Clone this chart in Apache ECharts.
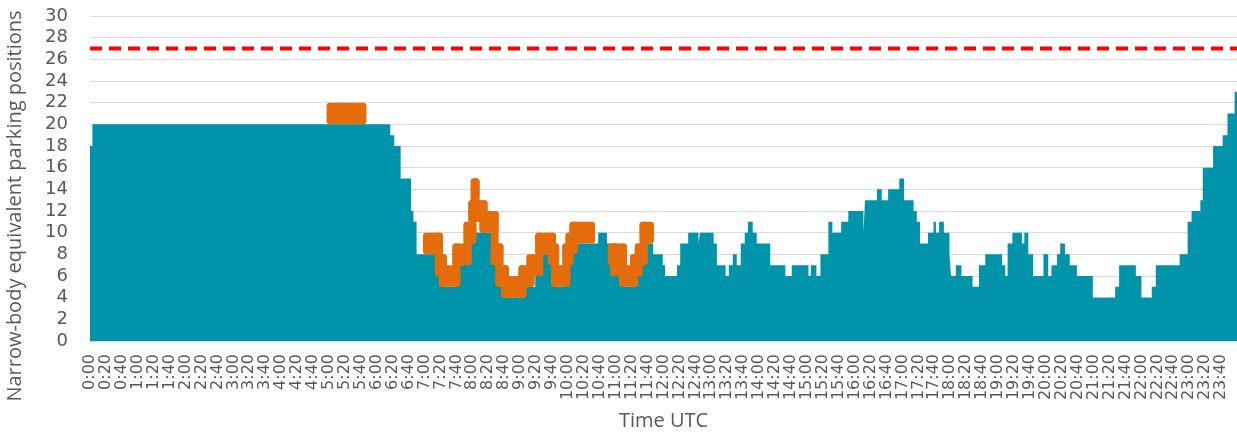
<!DOCTYPE html>
<html>
<head>
<meta charset="utf-8">
<script src="https://cdn.jsdelivr.net/npm/echarts@6/dist/echarts.min.js"></script>
<style>
html, body { margin: 0; padding: 0; background: #fff; }
#chart { width: 1237px; height: 435px; }
</style>
</head>
<body>
<div id="chart"></div>
<script>
// minutes after 0:00 UTC where the occupancy changes, and the value from there on
const tealMinutes = [0, 3, 377, 382, 390, 403, 406, 410, 437, 443, 460, 470, 477, 483, 512, 516, 521, 543, 559, 584, 598, 603,
    638, 649, 655, 672, 684, 690, 707, 719, 722, 737, 741, 751, 764, 766, 783, 787, 798, 802, 807, 812, 817, 822, 826, 832,
    837, 854, 873, 881, 902, 905, 912, 917, 927, 932, 943, 952, 971, 973, 988, 994, 1002, 1016, 1022, 1034, 1038, 1042, 1052,
    1059, 1062, 1066, 1072, 1079, 1081, 1087, 1094, 1108, 1116, 1124, 1145, 1149, 1152, 1158, 1170, 1173, 1178, 1184, 1197,
    1203, 1207, 1214, 1218, 1224, 1230, 1239, 1259, 1287, 1292, 1313, 1320, 1333, 1338, 1368, 1378, 1383, 1394, 1397, 1410,
    1422, 1428, 1437, 1440];
const tealValues = [18, 20, 19, 18, 15, 12, 11, 8, 6, 5, 7, 9, 11, 10, 7, 5, 4, 5, 8, 5, 7, 9,
    10, 9, 7, 5, 7, 9, 8, 7, 6, 7, 9, 10, 9, 10, 9, 7, 6, 7, 8, 7, 9, 10, 11, 10,
    9, 7, 6, 7, 6, 7, 6, 8, 11, 10, 11, 12, 10, 13, 14, 13, 14, 15, 13, 12, 11, 9, 10,
    11, 10, 11, 10, 8, 6, 7, 6, 5, 7, 8, 7, 6, 9, 10, 9, 10, 8, 6, 8,
    6, 7, 8, 9, 8, 7, 6, 4, 5, 7, 6, 4, 5, 7, 8, 11, 12, 13, 16, 18,
    19, 21, 23, 23];

// highlighted periods (null closes a period)
const orangeMinutes = [302, 342, 423, 438, 443, 460, 474, 480, 483, 484, 494, 508, 514, 521, 543, 553, 564, 580, 584, 598, 602, 607, 629,
    655, 658, 660, 669, 683, 689, 695, 703];
const orangeValues = [21, null, 9, 7, 6, 8, 10, 12, 14, 12, 11, 8, 6, 5, 6, 7, 9, 8, 6, 8, 9, 10, null,
    8, 7, 8, 6, 7, 8, 10, null];

const capacityLimit = 27;
const yTicks = { min: 0, max: 30, step: 2 };
const xTicks = { min: 0, max: 1440, step: 20 };

function timeLabel(v) {
    if (v >= 1440) return '';
    return Math.floor(v / 60) + ':' + String(v % 60).padStart(2, '0');
}

const tealData = tealMinutes.map((m, i) => [m, tealValues[i]]);
const orangeData = [];
orangeMinutes.forEach((m, i) => {
    const v = orangeValues[i];
    if (v === null) return;
    const prev = i > 0 && orangeValues[i - 1] !== null ? orangeValues[i - 1] : v;
    orangeData.push([m, v, orangeMinutes[i + 1], prev]);
});

const PAD = 4;
function renderOrange(params, api) {
    const t0 = api.value(0), v = api.value(1), t1 = api.value(2), vp = api.value(3);
    const a = api.coord([t0, v + 1]);
    const b = api.coord([t1, v - 1]);
    const children = [{
        type: 'rect',
        shape: { x: a[0] - PAD, y: a[1], width: b[0] - a[0] + 2 * PAD, height: b[1] - a[1], r: 3 },
        style: { fill: '#E46C0A' }
    }];
    if (vp !== v) {
        const c = api.coord([t0, Math.max(v, vp) + 1]);
        const d = api.coord([t0, Math.min(v, vp) - 1]);
        children.push({
            type: 'rect',
            shape: { x: c[0] - PAD, y: c[1], width: 2 * PAD, height: d[1] - c[1], r: 3 },
            style: { fill: '#E46C0A' }
        });
    }
    return { type: 'group', children: children };
}

const myEcharts = echarts.init(document.getElementById('chart'));
const option = {
    animation: false,
    grid: { left: 90, right: 0, top: 16, bottom: 94, outerBoundsMode: 'none' },
    xAxis: {
        type: 'value',
        min: xTicks.min,
        max: xTicks.max,
        interval: xTicks.step,
        axisLine: { show: true, lineStyle: { color: '#D9D9D9', width: 1 } },
        axisTick: { show: false },
        splitLine: { show: false },
        axisLabel: {
            rotate: 90,
            fontSize: 16,
            color: '#595959',
            fontFamily: 'DejaVu Sans',
            margin: 13,
            formatter: timeLabel
        },
        name: 'Time UTC',
        nameLocation: 'middle',
        nameGap: 70,
        nameTextStyle: { fontSize: 20, color: '#595959', fontFamily: 'Open Sans' }
    },
    yAxis: {
        type: 'value',
        min: yTicks.min,
        max: yTicks.max,
        interval: yTicks.step,
        axisLine: { show: false },
        axisTick: { show: false },
        splitLine: { lineStyle: { color: '#D9D9D9', width: 1 } },
        axisLabel: { fontSize: 18, color: '#595959', fontFamily: 'DejaVu Sans', margin: 22 }
    },
    graphic: [{
        type: 'text',
        x: 15,
        y: 206,
        rotation: Math.PI / 2,
        style: {
            text: 'Narrow-body equivalent parking positions',
            fontSize: 20,
            fontFamily: 'Open Sans',
            fill: '#595959',
            align: 'center',
            verticalAlign: 'middle'
        }
    }],
    series: [
        {
            name: 'occupancy',
            type: 'line',
            step: 'end',
            symbol: 'none',
            data: tealData,
            lineStyle: { width: 0 },
            areaStyle: { color: '#0094AB', opacity: 1 },
            z: 2
        },
        {
            name: 'highlight',
            type: 'custom',
            renderItem: renderOrange,
            encode: { x: 0, y: 1 },
            data: orangeData,
            z: 3
        },
        {
            name: 'limit',
            type: 'line',
            symbol: 'none',
            data: [[xTicks.min, capacityLimit], [xTicks.max, capacityLimit]],
            lineStyle: { color: '#FF0000', width: 4, type: [12, 7] },
            z: 4
        }
    ]
};
myEcharts.setOption(option);
</script>
</body>
</html>
